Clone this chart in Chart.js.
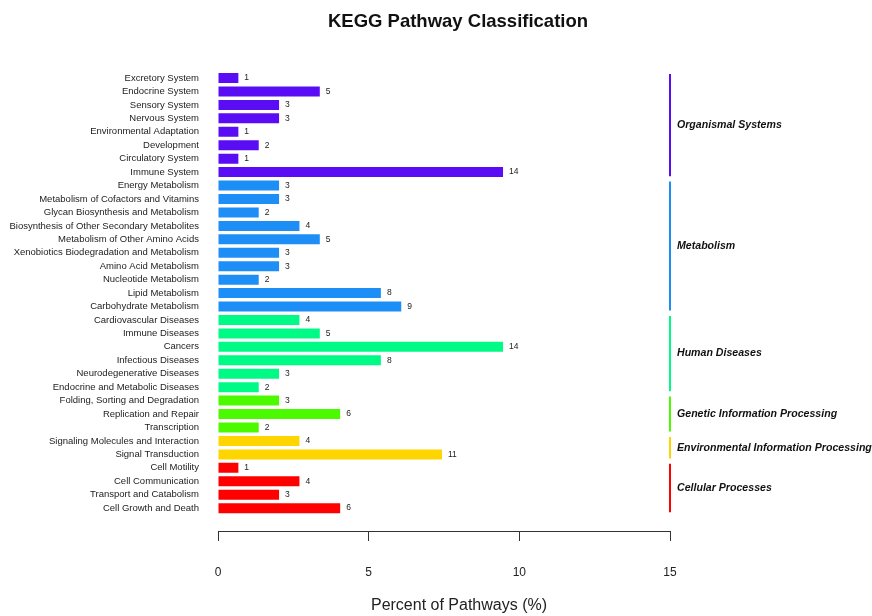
<!DOCTYPE html>
<html>
<head>
<meta charset="utf-8">
<script src="https://cdn.jsdelivr.net/npm/chart.js@4/dist/chart.umd.min.js"></script>
<style>
  html, body { margin: 0; padding: 0; background: #ffffff; }
  #wrap { width: 872px; height: 616px; }
</style>
</head>
<body>
<div id="wrap"><canvas id="chart" width="872" height="616"></canvas></div>
<script>
// KEGG level-2 pathway categories, top to bottom
const categories = [
  'Excretory System', 'Endocrine System', 'Sensory System', 'Nervous System',
  'Environmental Adaptation', 'Development', 'Circulatory System', 'Immune System',
  'Energy Metabolism', 'Metabolism of Cofactors and Vitamins', 'Glycan Biosynthesis and Metabolism',
  'Biosynthesis of Other Secondary Metabolites', 'Metabolism of Other Amino Acids',
  'Xenobiotics Biodegradation and Metabolism', 'Amino Acid Metabolism', 'Nucleotide Metabolism',
  'Lipid Metabolism', 'Carbohydrate Metabolism',
  'Cardiovascular Diseases', 'Immune Diseases', 'Cancers', 'Infectious Diseases',
  'Neurodegenerative Diseases', 'Endocrine and Metabolic Diseases',
  'Folding, Sorting and Degradation', 'Replication and Repair', 'Transcription',
  'Signaling Molecules and Interaction', 'Signal Transduction',
  'Cell Motility', 'Cell Communication', 'Transport and Catabolism', 'Cell Growth and Death'
];

// number of pathways in each category
const counts = [
  1, 5, 3, 3, 1, 2, 1, 14,
  3, 3, 2, 4, 5, 3, 3, 2, 8, 9,
  4, 5, 14, 8, 3, 2,
  3, 6, 2,
  4, 11,
  1, 4, 3, 6
];

// level-1 groups, their sizes (consecutive rows) and colours
const groupNames = [
  'Organismal Systems', 'Metabolism', 'Human Diseases',
  'Genetic Information Processing', 'Environmental Information Processing', 'Cellular Processes'
];
const groupSizes = [8, 10, 6, 3, 2, 4];
const groupColors = ['#5a0df5', '#1e8ef7', '#00fa86', '#4cfa00', '#ffd500', '#ff0000'];

const xTicks = [0, 5, 10, 15];

// percentage of all pathways for each category
const total = counts.reduce((a, b) => a + b, 0);
const percents = counts.map(c => c / total * 100);

// one colour per bar, following its group
const barColors = [];
groupSizes.forEach((n, g) => { for (let i = 0; i < n; i++) barColors.push(groupColors[g]); });

// prefer a narrow sans face for the category labels when one is installed
function hasFont(name) {
  const c = document.createElement('canvas').getContext('2d');
  const s = 'abcdefghijklmnopqrstuvwxyz ABCDEFGHIJKLMNOP';
  return ['monospace', 'serif'].every(base => {
    c.font = '40px ' + base;
    const w0 = c.measureText(s).width;
    c.font = '40px "' + name + '", ' + base;
    return Math.abs(c.measureText(s).width - w0) > 0.5;
  });
}
const MAIN_FONT = '"Liberation Sans", Arial, sans-serif';
const narrow = hasFont('Liberation Sans Narrow');
const LABEL_FONT = narrow ? '"Liberation Sans Narrow", ' + MAIN_FONT : MAIN_FONT;
const sizes = narrow
  ? { tick: 11, value: 9.5, group: 12.5 }
  : { tick: 9.5, value: 8.5, group: 10.6 };

// value range of the category axis: half a row above the first bar,
// extra room below the last one before the x axis
const Y_MIN = -0.5;
const Y_MAX = 33.7;

// count labels at bar ends, group brackets on the right, and titles
const decorations = {
  id: 'decorations',
  afterDatasetsDraw(chart) {
    const { ctx, scales } = chart;
    const meta = chart.getDatasetMeta(0);
    ctx.save();

    // counts next to each bar
    ctx.font = sizes.value + 'px ' + LABEL_FONT;
    ctx.fillStyle = '#222';
    ctx.textAlign = 'left';
    ctx.textBaseline = 'middle';
    meta.data.forEach((bar, i) => {
      ctx.fillText(String(counts[i]), bar.x + 6, bar.y);
    });

    // group brackets and names
    let start = 0;
    const lineX = scales.x.getPixelForValue(15);
    groupSizes.forEach((n, g) => {
      const y0 = scales.y.getPixelForValue(start - 0.3);
      const y1 = scales.y.getPixelForValue(start + n - 1 + 0.3);
      ctx.strokeStyle = groupColors[g];
      ctx.lineWidth = 2;
      ctx.beginPath();
      ctx.moveTo(lineX, y0);
      ctx.lineTo(lineX, y1);
      ctx.stroke();
      ctx.fillStyle = '#111';
      ctx.font = 'italic bold ' + sizes.group + 'px ' + LABEL_FONT;
      ctx.textAlign = 'left';
      ctx.textBaseline = 'middle';
      ctx.fillText(groupNames[g], lineX + 7, (y0 + y1) / 2);
      start += n;
    });

    // chart title and x-axis title
    ctx.fillStyle = '#111';
    ctx.textAlign = 'center';
    ctx.textBaseline = 'middle';
    ctx.font = 'bold 18.5px ' + MAIN_FONT;
    ctx.fillText('KEGG Pathway Classification', 458, 22);
    ctx.fillStyle = '#222';
    ctx.font = '16px ' + MAIN_FONT;
    ctx.fillText('Percent of Pathways (%)', 459, 606);

    ctx.restore();
  }
};

new Chart(document.getElementById('chart'), {
  type: 'bar',
  data: {
    datasets: [{
      data: percents.map((p, i) => ({ x: p, y: i })),
      backgroundColor: barColors,
      borderWidth: 0,
      barPercentage: 0.93,
      categoryPercentage: 0.8
    }]
  },
  options: {
    indexAxis: 'y',
    responsive: false,
    animation: false,
    layout: { padding: { top: 71.3, right: 202, bottom: 11, left: 0 } },
    plugins: {
      legend: { display: false },
      title: { display: false },
      tooltip: { enabled: false }
    },
    scales: {
      x: {
        type: 'linear',
        min: 0,
        max: 15,
        afterBuildTicks: s => { s.ticks = xTicks.map(v => ({ value: v })); },
        grid: { drawOnChartArea: false, drawTicks: true, tickLength: 10, color: '#333', lineWidth: 1 },
        border: { display: true, color: '#333', width: 1 },
        ticks: { padding: 24.8, color: '#222', font: { family: MAIN_FONT, size: 12 } }
      },
      y: {
        type: 'linear',
        reverse: true,
        offset: false,
        bounds: 'data',
        min: Y_MIN,
        max: Y_MAX,
        afterBuildTicks: s => { s.ticks = categories.map((_, i) => ({ value: i })); },
        afterFit: s => { s.width = 218; },
        grid: { display: false, drawTicks: false, offset: false },
        border: { display: false },
        ticks: {
          autoSkip: false,
          padding: 19,
          color: '#222',
          font: { family: LABEL_FONT, size: sizes.tick },
          callback: v => categories[v] ?? ''
        }
      }
    }
  },
  plugins: [decorations]
});
</script>
</body>
</html>
